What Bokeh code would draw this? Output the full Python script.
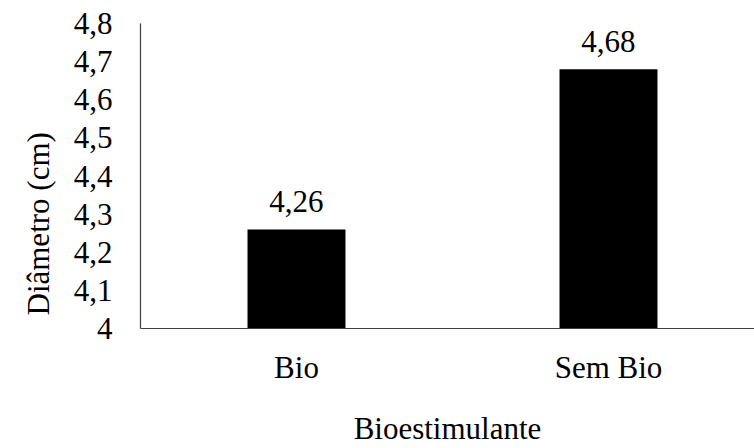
from bokeh.plotting import figure
from bokeh.models import ColumnDataSource, FixedTicker, Range1d, Title
from bokeh.core.properties import value
from bokeh.embed import file_html
from bokeh.resources import INLINE

categories = ["Bio", "Sem Bio"]
values = [4.26, 4.68]
value_labels = ["4,26", "4,68"]
y_ticks = [4.0, 4.1, 4.2, 4.3, 4.4, 4.5, 4.6, 4.7, 4.8]
y_tick_labels = ["4", "4,1", "4,2", "4,3", "4,4", "4,5", "4,6", "4,7", "4,8"]
x_title = "Bioestimulante"
y_title = "Diâmetro (cm)"

FONT = "Liberation Serif"
FS = "31px"

xs = list(range(len(categories)))
src = ColumnDataSource(dict(x=xs, top=values, lab=value_labels))

p = figure(width=754, height=448, output_backend="svg", toolbar_location=None,
           x_range=Range1d(-0.5, 1.468), y_range=Range1d(4.0, 4.8),
           min_border_left=140, min_border_right=0, min_border_top=23,
           min_border_bottom=120)
p.outline_line_color = None
p.grid.visible = False
p.background_fill_color = "white"

p.vbar(x="x", top="top", bottom=4.0, width=0.314, source=src,
       fill_color="black", line_color=None)
p.text(x="x", y="top", text="lab", source=src, text_align="center",
       text_baseline="alphabetic", y_offset=-28,
       text_font=value(FONT), text_font_size=FS, text_color="black")

ya = p.yaxis[0]
ya.ticker = FixedTicker(ticks=y_ticks)
ya.major_label_overrides = {t: l for t, l in zip(y_ticks, y_tick_labels)}
ya.major_tick_line_color = None
ya.minor_tick_line_color = None
ya.major_label_standoff = 22
ya.major_label_text_font = FONT
ya.major_label_text_font_size = FS
ya.major_label_text_color = "black"
ya.axis_line_color = "#404040"
ya.axis_line_width = 1.2

xa = p.xaxis[0]
xa.ticker = FixedTicker(ticks=xs)
xa.major_label_overrides = {i: c for i, c in zip(xs, categories)}
xa.major_tick_line_color = None
xa.minor_tick_line_color = None
xa.major_label_standoff = 15
xa.major_label_text_font = FONT
xa.major_label_text_font_size = FS
xa.major_label_text_color = "black"
xa.axis_line_color = "#404040"
xa.axis_line_width = 1.2
xa.axis_label = x_title
xa.axis_label_standoff = 23
xa.axis_label_text_font = FONT
xa.axis_label_text_font_size = FS
xa.axis_label_text_font_style = "normal"
xa.axis_label_text_color = "black"

p.add_layout(Title(text=y_title, align="left", offset=13, standoff=30,
                   text_font=FONT, text_font_size=FS, text_font_style="normal",
                   text_color="black"), "left")

open("out.html", "w").write(file_html(p, INLINE))
